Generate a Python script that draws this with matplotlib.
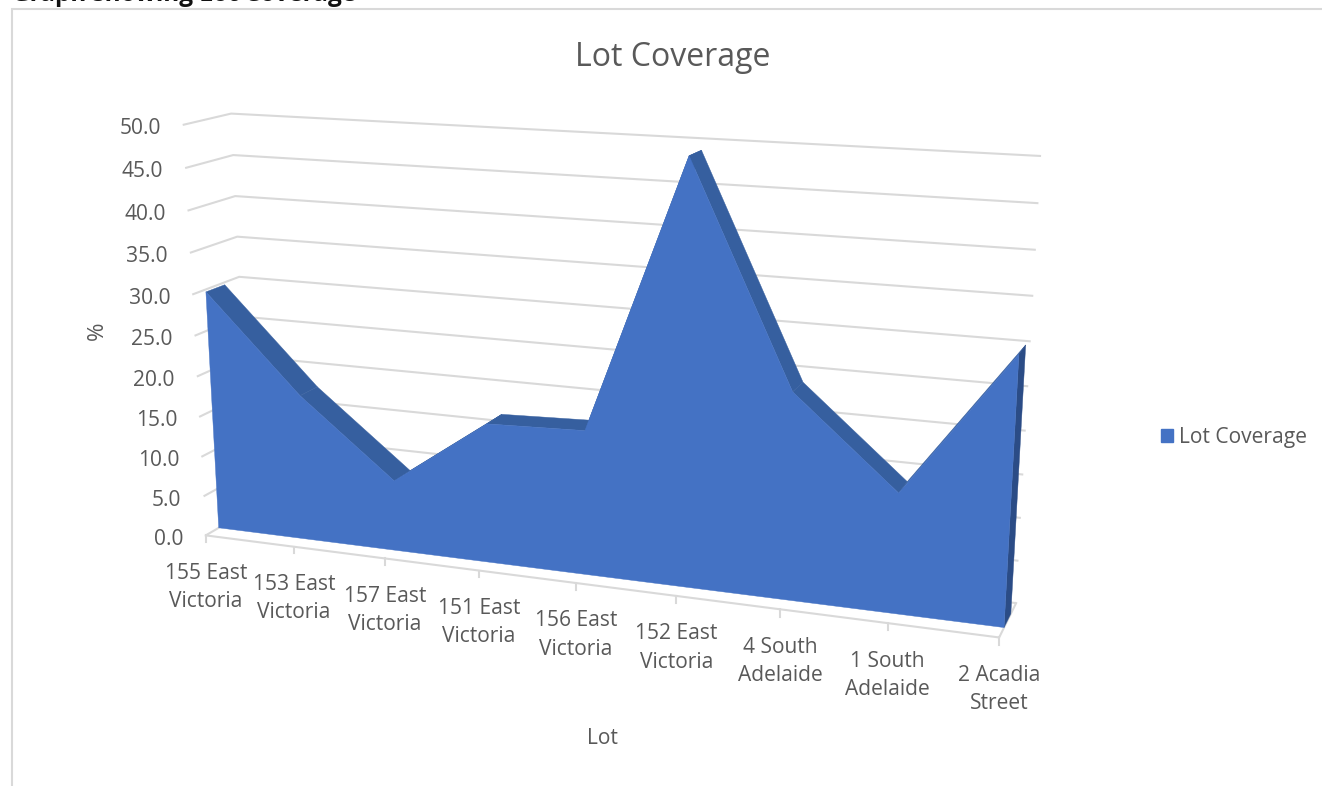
import numpy as np
import matplotlib
matplotlib.use("Agg")
import matplotlib.pyplot as plt
from matplotlib.transforms import Transform
from matplotlib.patches import Patch

# ---- data ----
categories = ["155 East\nVictoria", "153 East\nVictoria", "157 East\nVictoria", "151 East\nVictoria",
              "156 East\nVictoria", "152 East\nVictoria", "4 South\nAdelaide", "1 South\nAdelaide",
              "2 Acadia\nStreet"]
lot_coverage = [29.7, 18.0, 8.7, 16.9, 17.3, 49.2, 24.1, 13.9, 30.4]
y_ticks = [0, 5, 10, 15, 20, 25, 30, 35, 40, 45, 50]

# ---- style ----
FRONT = "#4472C4"
TOP = "#365F9F"
SIDE = "#2B4C86"
GRID = "#D9D9D9"
TEXT = "#595959"
FONT = "Open Sans"
LABEL_SIZE = 15.1
plt.rcParams["font.family"] = [FONT, "DejaVu Sans"]

W, H = 1322, 786
fig = plt.figure(figsize=(W / 100, H / 100), dpi=100, facecolor="white")
ax = fig.add_axes([0, 0, 1, 1])
ax.set_axis_off()

# ---- 3-D box camera: (category index, value, depth) -> reference pixel ----
camera_world = [(0, 0, 0), (8, 0, 0), (8, 0, 1), (0, 0, 1), (0, 50, 1), (8, 50, 1), (0, 50, 0),
                (0, 30, 1), (8, 30, 1), (0, 30, 0), (4, 0, 0), (2, 0, 0), (6, 0, 0)]
camera_pixel = [(206, 536), (1000, 637), (1016, 603), (251, 509), (231, 114), (1041, 156), (183, 125),
                (239, 276), (1031, 342), (192, 294), (576, 583), (385, 559), (779, 609)]
rows, rhs = [], []
for (X, Y, Z), (u, v) in zip(camera_world, camera_pixel):
    rows.append([X, Y, Z, 1, 0, 0, 0, 0, -u * X, -u * Y, -u * Z]); rhs.append(u)
    rows.append([0, 0, 0, 0, X, Y, Z, 1, -v * X, -v * Y, -v * Z]); rhs.append(v)
P = np.append(np.linalg.lstsq(np.array(rows, float), np.array(rhs, float), rcond=None)[0], 1).reshape(3, 4)


def proj(x, y, z):
    x, y, z = np.broadcast_arrays(np.asarray(x, float), np.asarray(y, float), np.asarray(z, float))
    h = P @ np.stack([x, y, z, np.ones_like(x)])
    return np.stack([h[0] / h[2], h[1] / h[2]], axis=-1)


class DepthPlane(Transform):
    """Maps (category index, value) on the plane of a given depth to pixels."""
    input_dims = output_dims = 2

    def __init__(self, plane_z):
        super().__init__()
        self.plane_z = plane_z

    def transform_non_affine(self, values):
        values = np.asarray(values, float)
        return proj(values[:, 0], values[:, 1], self.plane_z)


Z_FRONT, Z_BACK = 0.28, 0.68
n = len(categories)
idx = np.arange(n)
vals = np.array(lot_coverage)

# gridlines on side wall and back wall
for v in y_ticks:
    pts = proj([0, 0, n - 1], [v] * 3, [0, 1, 1])
    ax.plot(pts[:, 0], pts[:, 1], color=GRID, lw=1.5, solid_capstyle="butt", solid_joinstyle="miter", zorder=1)

# floor
floor = proj([0, n - 1, n - 1], [0, 0, 0], [0, 0, 1])
ax.plot(floor[:, 0], floor[:, 1], color=GRID, lw=1.5, solid_joinstyle="miter", zorder=1)
for i in idx:
    t = proj([i, i], [0, -0.85], [0, 0])
    t[1, 0] = t[0, 0]
    ax.plot(t[:, 0], t[:, 1], color=GRID, lw=1.5, zorder=1)

# top faces of the area, then right side, then the front
for i in range(n - 1):
    face = np.vstack([proj([i, i + 1], vals[i:i + 2], Z_FRONT), proj([i + 1, i], vals[i:i + 2][::-1], Z_BACK)])
    ax.fill(face[:, 0], face[:, 1], color=TOP, lw=0.3, zorder=2)
side = np.vstack([proj([n - 1, n - 1], [0, vals[-1]], Z_FRONT), proj([n - 1, n - 1], [vals[-1], 0], Z_BACK)])
ax.fill(side[:, 0], side[:, 1], color=SIDE, lw=0.3, zorder=2)
ax.fill(np.r_[0, idx, n - 1], np.r_[0, vals, 0], color=FRONT, lw=0.3, zorder=3,
        transform=DepthPlane(Z_FRONT) + ax.transData)

# value labels
for v in y_ticks:
    px, py = proj(0, v, 0)
    ax.text(px - 22, py + 1.2, f"{v:.1f}", ha="right", va="center_baseline", fontsize=LABEL_SIZE, color=TEXT)

# category labels
for i, name in enumerate(categories):
    px, py = proj(i, 0, 0)
    ax.text(px, py + 52, name, ha="center", va="center", fontsize=LABEL_SIZE, color=TEXT, linespacing=1.45)

ax.text(673, 57.5, "Lot Coverage", ha="center", va="center", fontsize=23, color=TEXT)
ax.text(97, 331, "%", ha="center", va="center", rotation=90, fontsize=LABEL_SIZE + 1, color=TEXT)
ax.text(602, 739, "Lot", ha="center", va="center", fontsize=LABEL_SIZE, color=TEXT)
ax.text(12, 1, "Graph showing Lot Coverage", ha="left", va="baseline", fontsize=17.5, fontweight="bold", color="#111111")

# outer chart border
ax.plot([12, 12, W], [H, 9, 9], color=GRID, lw=1.5, solid_joinstyle="miter", zorder=1)

ax.legend(handles=[Patch(color=FRONT, label="Lot Coverage")], loc="center left",
          bbox_to_anchor=(1161 / W, 1 - 437.5 / H), bbox_transform=fig.transFigure, frameon=False,
          fontsize=LABEL_SIZE, labelcolor=TEXT, borderpad=0, borderaxespad=0, handlelength=0.58,
          handleheight=0.55, handletextpad=0.3)

ax.set_xlim(0, W)
ax.set_ylim(H, 0)
fig.savefig("out.png", dpi=100)
